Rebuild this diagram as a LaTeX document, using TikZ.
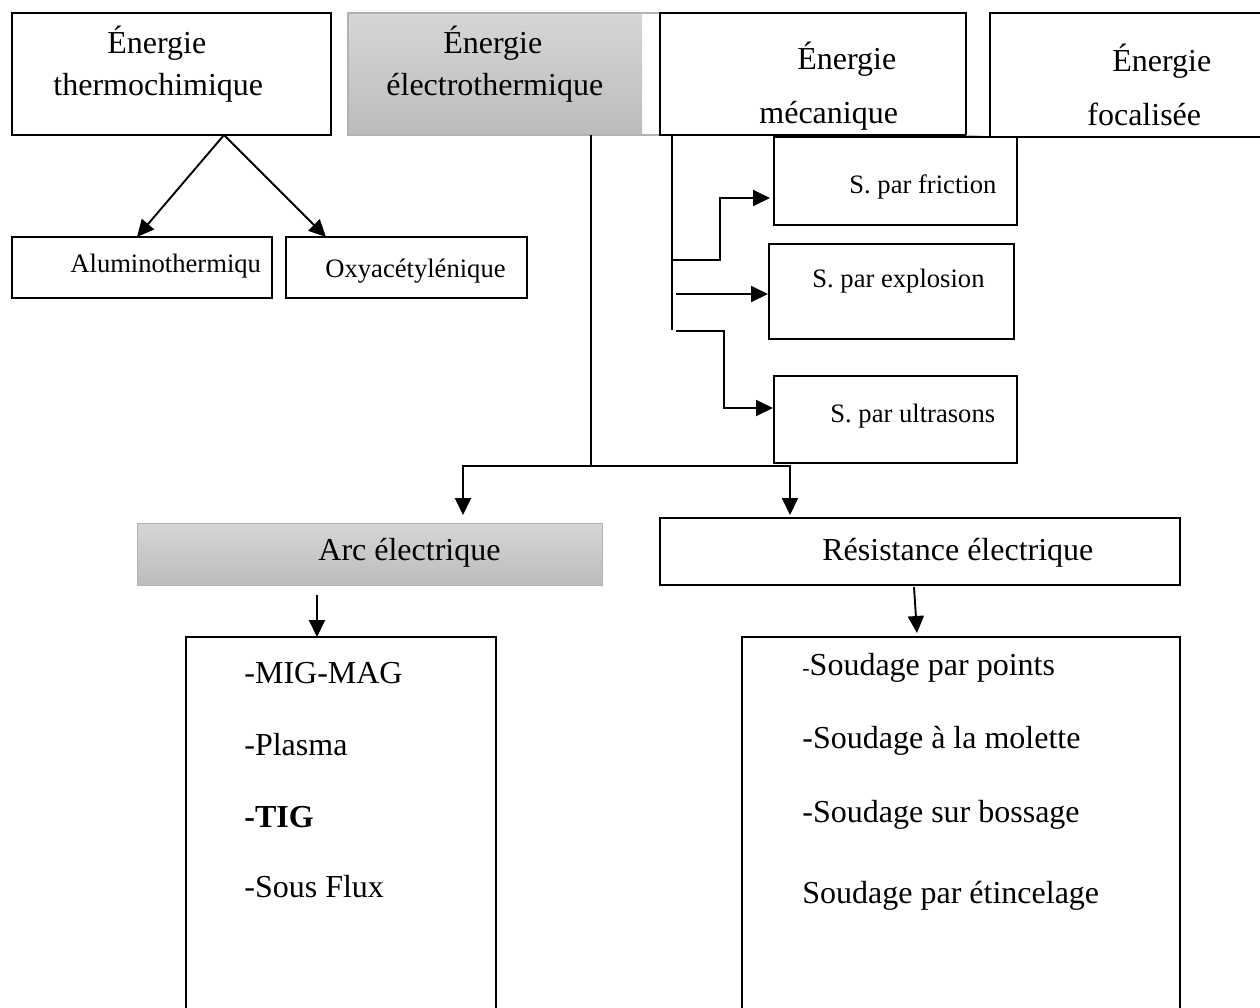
\documentclass[tikz,border=0pt]{standalone}
\usepackage{fontspec}
\setmainfont{Liberation Serif}
\usetikzlibrary{arrows.meta,calc,fit}
\newcommand{\mkbox}[6]{%
  \coordinate (#1-a) at (#2,#3); \coordinate (#1-b) at (#4,#5);
  \node[fit=(#1-a)(#1-b), inner sep=0pt, outer sep=0pt, #6] (#1) {};}
\tikzset{
  box/.style={draw=black, line width=1pt, fill=white},
  graybox/.style={draw=gray!60, line width=0.5pt, top color={rgb,255:red,214;green,214;blue,214}, bottom color={rgb,255:red,188;green,188;blue,188}},
  big/.style={anchor=base west, inner sep=0pt, font=\fontsize{16}{19}\selectfont},
  small/.style={anchor=base west, inner sep=0pt, font=\fontsize{13.3}{16}\selectfont},
  conn/.style={draw=black, line width=0.95pt},
  arr/.style={conn, -{Triangle[length=8.5pt,width=8pt]}}
}
\begin{document}
\begin{tikzpicture}[x=0.5pt,y=-0.5pt]
\useasboundingbox (0,0) rectangle (1260,1008);
\clip (0,0) rectangle (1260,1008);
\fill[white] (0,0) rectangle (1260,1008);
% top row
\mkbox{thermo}{12}{13}{331}{135}{box}
\mkbox{electro}{348}{13}{660}{135}{}
\fill[top color={rgb,255:red,214;green,214;blue,214}, bottom color={rgb,255:red,188;green,188;blue,188}] (electro.north west) rectangle ($(electro.south west)+(294,0)$);
\draw[gray!60, line width=0.6pt] (electro.north west) rectangle (electro.south east);
\mkbox{meca}{660}{13}{966}{135}{box}
\mkbox{focal}{990}{13}{1270}{137}{box}
\draw[gray!50, line width=0.5pt] (meca.south east) -- (focal.south west);
% thermo children
\mkbox{alum}{12}{237}{272}{298}{box}
\mkbox{oxy}{286}{237}{527}{298}{box}
% meca children
\mkbox{fric}{774}{137}{1017}{225}{box}
\mkbox{expl}{769}{244}{1014}{339}{box}
\mkbox{ultra}{774}{376}{1017}{463}{box}
% electro children
\mkbox{arc}{137}{523}{602}{585}{graybox}
\mkbox{resist}{660}{518}{1180}{585}{box}
\mkbox{arclist}{186}{637}{496}{1030}{box}
\mkbox{reslist}{742}{637}{1180}{1030}{box}

% texts
\node[big] (t1) at (107,53) {Énergie};
\node[big] (t2) at (53,95) {thermochimique};
\node[big] (e1t) at (443,53) {Énergie};
\node[big] (e2t) at (386,95) {électrothermique};
\node[big] (m1t) at (797,69) {Énergie};
\node[big] (m2t) at (759,123) {mécanique};
\node[big] (f1t) at (1112,71) {Énergie};
\node[big] (f2t) at (1087,125) {focalisée};
\node[small] (alt) at (70,272) {Aluminothermiqu};
\node[small] (oxt) at (325,277) {Oxyacétylénique};
\node[small] (frt) at (849,193) {S. par friction};
\node[small] (ext) at (812,287) {S. par explosion};
\node[small] (ult) at (830,422) {S. par ultrasons};
\node[big] (arct) at (318,560) {Arc électrique};
\node[big] (rest) at (822,560) {Résistance électrique};
\node[big] (l1) at (244,683) {-MIG-MAG};
\node[big] (l2) at (244,755) {-Plasma};
\node[big] (l3) at (244,827) {\bfseries -TIG};
\node[big] (l4) at (244,897) {-Sous Flux};
\node[big] (r1) at (802,675) {{\fontsize{11}{13}\selectfont -}Soudage par points};
\node[big] (r2) at (802,748) {-Soudage à la molette};
\node[big] (r3) at (802,822) {-Soudage sur bossage};
\node[big] (r4) at (802,903) {Soudage par étincelage};

% connectors: thermochimique
\draw[arr] ($(thermo.south west)+(212,0)$) -- ($(alum.north)+(-5,0)$);
\draw[arr] ($(thermo.south west)+(212,0)$) -- ($(oxy.north)+(-80.5,0)$);
% mecanique
\coordinate (m0) at ($(meca.south west)+(12,0)$);
\draw[conn] (m0) -- ++(0,195) coordinate (m1);
\draw[arr] ($(m0)+(0,125)$) -- ++(48,0) |- ($(fric.west)+(-4,17)$);
\draw[arr] ($(expl.west -| m0)+(4,2.5)$) -- ($(expl.west)+(-1,2.5)$);
\draw[arr] ($(m0)+(4,196)$) -- ++(48,0) |- ($(ultra.west)+(-1,-11.5)$);
% electrothermique
\coordinate (e0) at ($(electro.south west)+(243,0)$);
\draw[conn] (e0) -- ++(0,331) coordinate (e1);
\draw[arr] (e1) -| ($(arc.north)+(93.5,-8)$);
\draw[arr] (e1) -| ($(resist.north)+(-130,-3)$);
% down to lists
\draw[arr] ($(arc.south)+(-52.5,10)$) -- ($(arclist.north)+(-24,0)$);
\draw[arr] ($(resist.south)+(-6,2)$) -- ($(reslist.north)+(-44,-4)$);
\end{tikzpicture}
\end{document}
